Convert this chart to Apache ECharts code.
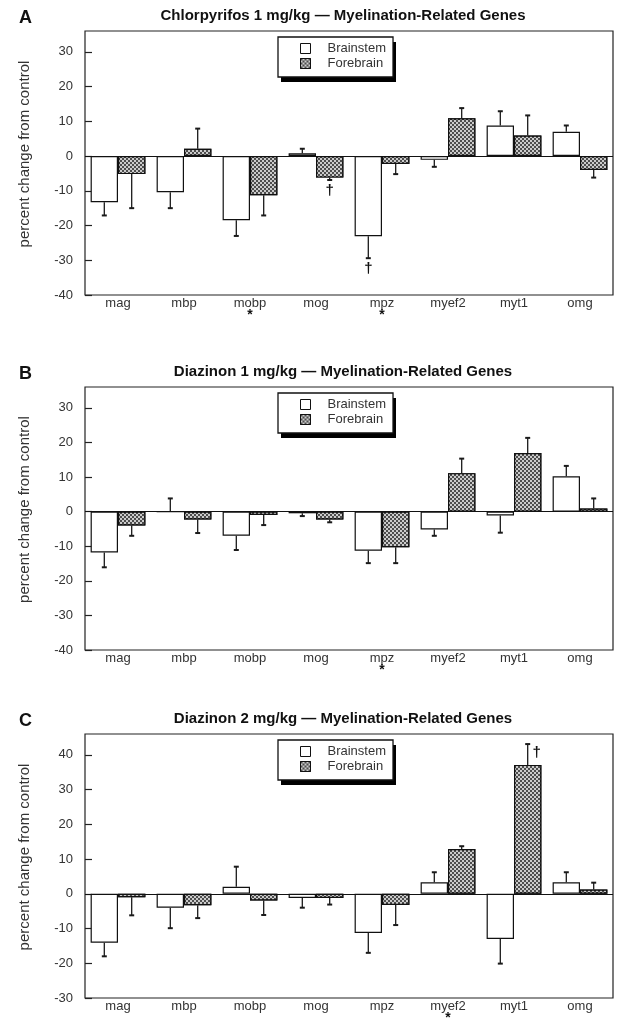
<!DOCTYPE html>
<html><head><meta charset="utf-8">
<script src="https://cdn.jsdelivr.net/npm/echarts@6/dist/echarts.min.js"></script>
<style>html,body{margin:0;padding:0;background:#fff}#c{width:634px;height:1033px}</style>
</head><body><div id="c"></div>
<script>
// ---- data ----
const categories = ['mag','mbp','mobp','mog','mpz','myef2','myt1','omg'];
const seriesNames = ['Brainstem','Forebrain'];
const panelTitles = [
  'Chlorpyrifos 1 mg/kg \u2014 Myelination-Related Genes',
  'Diazinon 1 mg/kg \u2014 Myelination-Related Genes',
  'Diazinon 2 mg/kg \u2014 Myelination-Related Genes'
];
const panelLetters = ['A','B','C'];
const yRangeA = [-40, 36];
const yRangeB = [-40, 36];
const yRangeC = [-30, 46];

// Panel A: Chlorpyrifos 1 mg/kg
const brainA    = [-13.3, -10.4, -18.5, 0.8, -23.1, -1.1, 8.8, 7.0];
const brainErrA = [3.8, 4.6, 4.5, 1.3, 6.3, 2.0, 4.1, 1.8];
const foreA     = [-5.2, 2.1, -11.3, -6.2, -2.3, 10.9, 5.9, -4.0];
const foreErrA  = [9.8, 5.8, 5.8, 0.7, 2.9, 2.9, 5.8, 2.2];
const brainDagA = [0, 0, 0, 0, 1, 0, 0, 0];
const foreDagA  = [0, 0, 0, 1, 0, 0, 0, 0];
const starsA    = [0, 0, 1, 0, 1, 0, 0, 0];

// Panel B: Diazinon 1 mg/kg
const brainB    = [-11.8, 0, -7.0, -0.5, -11.3, -5.2, -1.1, 10.2];
const brainErrB = [4.3, 3.8, 4.1, 0.8, 3.6, 1.8, 5.0, 3.0];
const foreB     = [-4.0, -2.3, -1.0, -2.3, -10.3, 11.1, 16.9, 0.9];
const foreErrB  = [3.0, 3.9, 2.9, 0.8, 4.6, 4.2, 4.4, 2.9];
const brainDagB = [0, 0, 0, 0, 0, 0, 0, 0];
const foreDagB  = [0, 0, 0, 0, 0, 0, 0, 0];
const starsB    = [0, 0, 0, 0, 1, 0, 0, 0];

// Panel C: Diazinon 2 mg/kg
const brainC    = [-14.1, -4.0, 2.0, -1.2, -11.3, 3.3, -13.0, 3.3];
const brainErrC = [3.9, 5.9, 5.8, 2.8, 5.7, 2.9, 7.1, 2.9];
const foreC     = [-1.0, -3.3, -1.9, -1.2, -3.2, 12.9, 37.1, 1.2];
const foreErrC  = [5.2, 3.7, 4.2, 1.9, 5.8, 0.8, 6.0, 2.0];
const brainDagC = [0, 0, 0, 0, 0, 0, 0, 0];
const foreDagC  = [0, 0, 0, 0, 0, 0, 1, 0];
const starsC    = [0, 0, 0, 0, 0, 1, 0, 0];

// ---- build ----
const FONT = "'Liberation Sans', Arial, Helvetica, sans-serif";
const panels = [
  {b: brainA, be: brainErrA, f: foreA, fe: foreErrA, bd: brainDagA, fd: foreDagA, stars: starsA, range: yRangeA},
  {b: brainB, be: brainErrB, f: foreB, fe: foreErrB, bd: brainDagB, fd: foreDagB, stars: starsB, range: yRangeB},
  {b: brainC, be: brainErrC, f: foreC, fe: foreErrC, bd: brainDagC, fd: foreDagC, stars: starsC, range: yRangeC}
];
const gridTops = [31, 387, 734];
const gridHeights = [264, 263, 264];
const GL = 85, GW = 528;
const CAT_GAP = 0.17;
const LEG_LEFT = 278, LEG_W = 115, LEG_H = 40;

const brainStyle = {color: '#ffffff', borderColor: '#111', borderWidth: 1.2};
const foreStyle = {
  color: '#4d4d4d', borderColor: '#111', borderWidth: 1.2,
  decal: {
    symbol: 'circle', symbolSize: 1, color: 'rgba(255,255,255,0.95)',
    dashArrayX: [[2, 2], [0, 2, 2, 0]], dashArrayY: [2, 0]
  }
};

function errRender(sign) {
  return function (params, api) {
    const i = api.value(0), v = api.value(1), e = api.value(2), dag = api.value(3);
    const band = api.size([1, 0])[0];
    const bw = band * (1 - CAT_GAP) / 2;
    const c = api.coord([i, v]);
    const x = c[0] + sign * bw / 2;
    const end = v >= 0 ? v + e : v - e;
    const pe = api.coord([i, end]);
    const children = [
      {type: 'line', shape: {x1: x, y1: c[1], x2: x, y2: pe[1]}, style: {stroke: '#1a1a1a', lineWidth: 1.3}},
      {type: 'line', shape: {x1: x - 2.5, y1: pe[1], x2: x + 2.5, y2: pe[1]}, style: {stroke: '#1a1a1a', lineWidth: 2}}
    ];
    if (dag) {
      const pos = v < 0 ? {x: x, y: pe[1] + 11} : {x: x + 9, y: pe[1] + 9};
      children.push({type: 'text', x: pos.x, y: pos.y, style: {
        text: '\u2020', fill: '#111', font: 'bold 15px ' + FONT, align: 'center', verticalAlign: 'middle'}});
    }
    return {type: 'group', children: children};
  };
}

const grid = [], xAxis = [], yAxis = [], series = [], legend = [], title = [], graphic = [];
panels.forEach((p, k) => {
  grid.push({left: GL, width: GW, top: gridTops[k], height: gridHeights[k], show: true,
    borderColor: '#222', borderWidth: 1.2, backgroundColor: '#fff'});
  xAxis.push({type: 'category', gridIndex: k, data: categories,
    axisLine: {show: false, onZero: false}, axisTick: {show: false},
    axisLabel: {margin: 2, fontSize: 13, color: '#333', fontFamily: FONT, lineHeight: 13,
      formatter: (v, i) => p.stars[i] ? v + '\n{s|*}' : v,
      rich: {s: {fontSize: 14, fontWeight: 'bold', color: '#111', lineHeight: 11}}}});
  yAxis.push({type: 'value', gridIndex: k, min: p.range[0], max: p.range[1], interval: 10,
    name: 'percent change from control', nameLocation: 'middle', nameGap: 53,
    nameTextStyle: {fontSize: 15, color: '#333', fontFamily: FONT, padding: [0, 0, 0, 18]},
    axisLine: {show: false}, splitLine: {show: false},
    axisTick: {show: true, inside: true, length: 7, lineStyle: {color: '#222', width: 1.2}},
    axisLabel: {margin: 12, fontSize: 13, color: '#333', fontFamily: FONT, showMaxLabel: false}});
  series.push({name: 'Brainstem', type: 'bar', xAxisIndex: k, yAxisIndex: k, data: p.b,
    barGap: '0%', barCategoryGap: (CAT_GAP * 100) + '%', itemStyle: brainStyle, z: 2,
    markLine: {silent: true, symbol: ['none', 'none'], label: {show: false},
      lineStyle: {color: '#111', width: 1.2, type: 'solid'}, data: [{yAxis: 0}], animation: false}});
  series.push({name: 'Forebrain', type: 'bar', xAxisIndex: k, yAxisIndex: k, data: p.f,
    barGap: '0%', barCategoryGap: (CAT_GAP * 100) + '%', itemStyle: foreStyle, z: 2});
  series.push({type: 'custom', xAxisIndex: k, yAxisIndex: k, z: 3, silent: true,
    renderItem: errRender(-1), data: p.b.map((v, i) => [i, v, p.be[i], p.bd[i]])});
  series.push({type: 'custom', xAxisIndex: k, yAxisIndex: k, z: 3, silent: true,
    renderItem: errRender(1), data: p.f.map((v, i) => [i, v, p.fe[i], p.fd[i]])});
  legend.push({data: seriesNames, orient: 'vertical', left: LEG_LEFT, top: gridTops[k] + 6, z: 10,
    icon: 'rect', itemWidth: 10, itemHeight: 10, itemGap: 2,
    padding: [5, 7, 7, 22], backgroundColor: '#fff', borderColor: '#111', borderWidth: 1.3,
    textStyle: {fontSize: 13, lineHeight: 13, color: '#333', fontFamily: FONT, padding: [0, 0, 0, 12]},
    itemStyle: {borderColor: '#111', borderWidth: 1}, selectedMode: false});
  // legend drop shadow
  graphic.push({type: 'rect', z: 3, silent: true,
    shape: {x: LEG_LEFT + 3, y: gridTops[k] + 6 + 5, width: LEG_W, height: LEG_H},
    style: {fill: '#000'}});
  title.push({text: panelTitles[k], left: 343, top: gridTops[k] - 23, textAlign: 'center', padding: 0,
    textStyle: {fontSize: 15, fontWeight: 'bold', color: '#111', fontFamily: FONT}});
  title.push({text: panelLetters[k], left: 19, top: gridTops[k] - 22, padding: 0,
    textStyle: {fontSize: 18, fontWeight: 'bold', color: '#111', fontFamily: FONT}});
});

const chart = echarts.init(document.getElementById('c'), null, {renderer: 'canvas'});
chart.setOption({animation: false, backgroundColor: '#fff', title, grid, xAxis, yAxis, legend, series, graphic});
</script>
</body></html>
